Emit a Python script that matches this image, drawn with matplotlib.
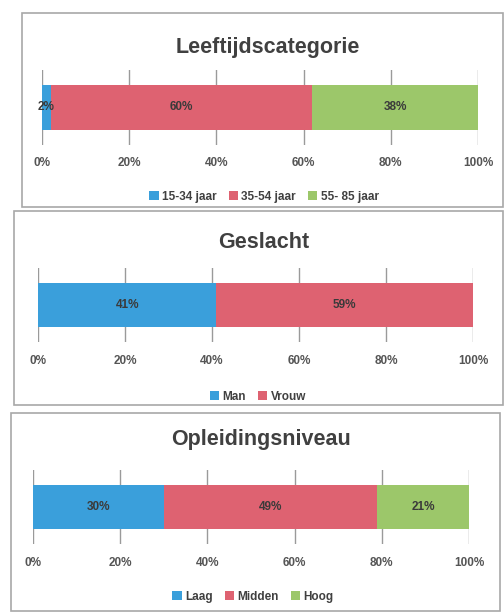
import matplotlib
matplotlib.use("Agg")
import matplotlib.pyplot as plt
from matplotlib.patches import Rectangle

plt.rcParams['font.family'] = ['Liberation Sans', 'DejaVu Sans']

titles = ["Leeftijdscategorie", "Geslacht", "Opleidingsniveau"]
cats_age = ["15-34 jaar", "35-54 jaar", "55- 85 jaar"]
vals_age = [2, 60, 38]
cats_sex = ["Man", "Vrouw"]
vals_sex = [41, 59]
cats_edu = ["Laag", "Midden", "Hoog"]
vals_edu = [30, 49, 21]
tick_vals = [0, 20, 40, 60, 80, 100]
tick_labels = ["0%", "20%", "40%", "60%", "80%", "100%"]

colors = ["#3A9FDB", "#DE6271", "#9CC76A"]

W, H = 504, 616
fig = plt.figure(figsize=(W / 100, H / 100), dpi=100)
fig.patch.set_facecolor("white")

def fx(x):
    return x / W

def fy(y):
    return 1 - y / H

panels = [
    dict(box=(22, 13, 503, 207), ax=(42, 70, 478, 145), title_y=47, leg_y=197, leg_x=264),
    dict(box=(14, 211, 503, 405), ax=(38, 268, 473, 342), title_y=243, leg_x=258, leg_y=397),
    dict(box=(11, 413, 500, 611), ax=(33, 470, 469, 544), title_y=440, leg_x=253, leg_y=597),
]
datasets = [(cats_age, vals_age), (cats_sex, vals_sex), (cats_edu, vals_edu)]

for p, title, (cats, vals) in zip(panels, titles, datasets):
    x0, y0, x1, y1 = p["box"]
    fig.patches.append(Rectangle((fx(x0), fy(y1)), fx(x1 - x0), (y1 - y0) / H,
                                 transform=fig.transFigure, fill=False,
                                 edgecolor="#A8A8A8", linewidth=1.2))
    ax0, ay0, ax1, ay1 = p["ax"]
    ax = fig.add_axes([fx(ax0), fy(ay1), fx(ax1 - ax0), (ay1 - ay0) / H])
    left = 0
    for i, (c, v) in enumerate(zip(cats, vals)):
        ax.barh(0, v, left=left, height=0.6, color=colors[i], label=c, zorder=2)
        ax.text(left + v / 2, 0, f"{v}%", ha="center", va="center",
                fontsize=8.5, fontweight="bold", color="#3A3A3A", zorder=3)
        left += v
    ax.set_xlim(0, 100)
    ax.set_ylim(-0.5, 0.5)
    ax.set_xticks(tick_vals)
    ax.set_xticklabels(tick_labels)
    ax.set_yticks([])
    for xv in tick_vals:
        ax.axvline(xv, color="#9A9A9A", linewidth=1.0, zorder=1)
    for s in ax.spines.values():
        s.set_visible(False)
    ax.tick_params(axis="x", length=0, pad=9, labelsize=8.5, labelcolor="#555555")
    for lab in ax.get_xticklabels():
        lab.set_fontweight("bold")
    ax.set_facecolor("none")
    fig.text(fx((x0 + x1) / 2 + 5), fy(p["title_y"]), title, ha="center", va="center",
             fontsize=15.5, fontweight="bold", color="#404040")
    leg = fig.legend(*ax.get_legend_handles_labels(), loc="center",
                     bbox_to_anchor=(fx(p["leg_x"]), fy(p["leg_y"])),
                     ncol=len(cats), frameon=False, fontsize=8.5,
                     handlelength=0.8, handleheight=0.8, handletextpad=0.3,
                     columnspacing=1.0)
    for t in leg.get_texts():
        t.set_fontweight("bold")
        t.set_color("#404040")

fig.savefig("out.png", dpi=100)
